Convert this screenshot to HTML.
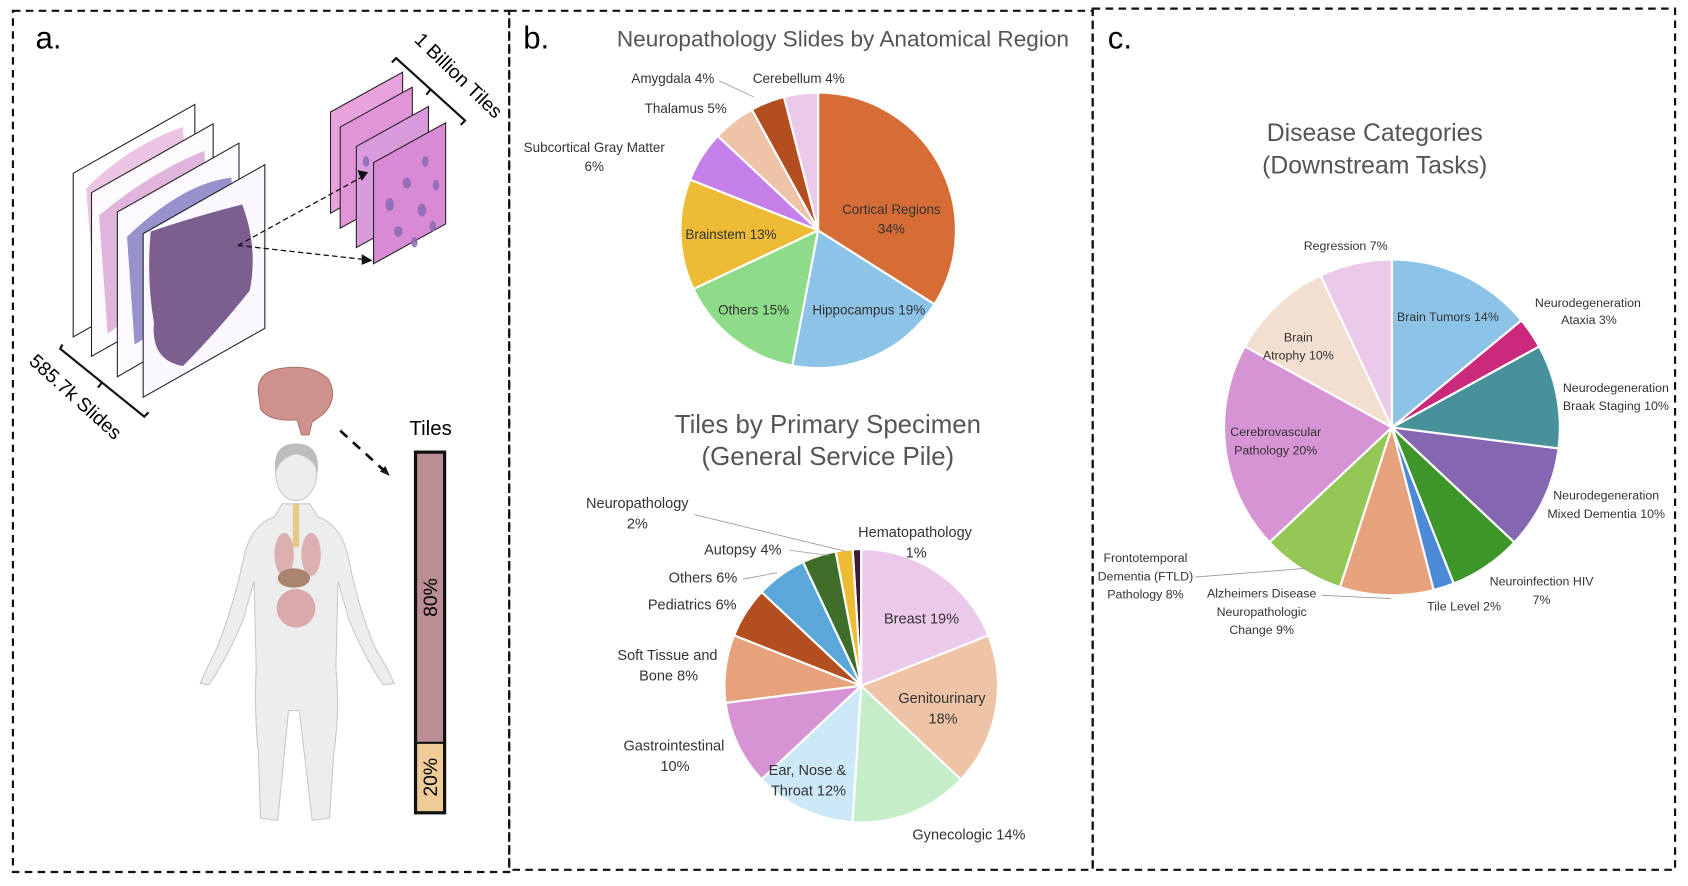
<!DOCTYPE html>
<html><head><meta charset="utf-8"><style>
html,body{margin:0;padding:0;background:#fff;}
svg{display:block;}
text{font-family:"Liberation Sans",sans-serif;}
.l{font-size:12.5px;fill:#333;text-anchor:middle;}
.m{font-size:13.5px;fill:#333;text-anchor:middle;}
.s{font-size:11.5px;fill:#333;text-anchor:middle;}
.t{fill:#555;text-anchor:middle;}
</style></head><body>
<svg id="s" width="1688" height="886" viewBox="0 0 1568 823" xmlns="http://www.w3.org/2000/svg">
<rect width="1568" height="823" fill="#fff"/>
<g fill="none" stroke="#111" stroke-width="2" stroke-dasharray="7,5">
<rect x="12" y="10" width="461" height="800"/>
<rect x="473" y="10" width="542" height="798"/>
<rect x="1015" y="8" width="541" height="800"/>
</g>
<text x="33" y="45" font-size="29">a.</text>
<text x="486" y="45" font-size="29">b.</text>
<text x="1029" y="45" font-size="29">c.</text>

<!-- panel a slides -->
<g stroke="#222" stroke-width="1">
<path d="M68 161 L181 97 L181 249 L68 313 Z" fill="#fff"/>
<path d="M80 175 Q120 135 170 118 L175 200 Q130 250 90 300 Z" fill="#E9B7DD" stroke="none" opacity="0.8"/>
<path d="M85 179 L198 115 L198 267 L85 331 Z" fill="#fdfbfe"/>
<path d="M92 200 Q140 160 190 140 L192 230 Q140 280 100 310 Z" fill="#D9A2D3" stroke="none" opacity="0.8"/>
<path d="M109 197 L222 133 L222 285 L109 350 Z" fill="#fcfaff"/>
<path d="M118 220 Q170 170 215 165 L216 250 Q160 300 125 320 Z" fill="#8A86C7" stroke="none" opacity="0.9"/>
<path d="M133 217 L246 153 L246 305 L133 369 Z" fill="#fbf9ff"/>
<path d="M140 215 Q185 200 225 190 Q240 230 232 270 Q200 310 170 340 Q140 335 143 300 Q136 260 140 215 Z" fill="#7C5F8F" stroke="none"/>
</g>
<g stroke="#222" stroke-width="1">
<path d="M307 104 L374 67 L374 161 L307 198 Z" fill="#E8A2DC"/>
<path d="M316 118 L383 81 L383 175 L316 212 Z" fill="#E294D8"/>
<path d="M331 136 L398 99 L398 193 L331 230 Z" fill="#D99BDC"/>
<path d="M347 151 L414 114 L414 208 L347 245 Z" fill="#D88AD4"/>
</g>
<g fill="#8A6BB5" opacity="0.85">
<ellipse cx="362" cy="190" rx="4" ry="6"/><ellipse cx="378" cy="170" rx="4" ry="5"/><ellipse cx="395" cy="150" rx="3" ry="5"/>
<ellipse cx="370" cy="215" rx="4" ry="5"/><ellipse cx="392" cy="195" rx="4" ry="6"/><ellipse cx="405" cy="172" rx="3" ry="5"/>
<ellipse cx="385" cy="225" rx="3" ry="5"/><ellipse cx="402" cy="210" rx="3" ry="5"/><ellipse cx="340" cy="150" rx="3" ry="5"/>
</g>
<g stroke="#111" stroke-width="1.2" stroke-dasharray="5,3" fill="none">
<path d="M221 228 L335 165"/><path d="M221 228 L338 241"/>
</g>
<path d="M332 158 L342 160 L336 168 Z" fill="#111"/>
<path d="M336 236 L346 242 L336 246 Z" fill="#111"/>
<g stroke="#111" stroke-width="2" fill="none">
<path d="M364 58 L368 54 L432 112 L428 116"/><path d="M400 83 L396 88"/>
<path d="M58 320 L56 324 L134 387 L138 383"/><path d="M95 355 L91 360"/>
</g>
<text font-size="18" transform="translate(384,38) rotate(44)">1 Billion Tiles</text>
<text font-size="18" transform="translate(26,337) rotate(42)">585.7k Slides</text>

<!-- brain -->
<path d="M240 365 Q238 345 262 342 Q290 338 305 352 Q315 370 300 385 L290 392 L287 404 L280 404 L276 390 Q250 392 242 380 Z" fill="#CF918C" stroke="#a56a66" stroke-width="0.8"/>
<!-- body -->
<g fill="#EDEDED" stroke="#c8c8c8" stroke-width="1">
<path d="M255 480 Q232 488 226 520 Q215 570 200 605 Q190 625 186 635 L194 636 Q212 610 226 575 L236 540 L238 620 Q236 660 240 700 L242 760 L258 762 L268 660 L278 660 L290 762 L306 760 L310 700 Q316 660 312 620 L314 540 L324 575 Q338 610 356 636 L366 635 Q360 620 350 605 Q334 570 324 520 Q318 488 295 480 L288 468 L262 468 Z"/>
</g>
<ellipse cx="275" cy="440" rx="19" ry="25" fill="#EDEDED" stroke="#c8c8c8"/>
<path d="M256 440 Q252 412 275 412 Q298 412 295 440 Q292 425 275 422 Q260 425 256 440 Z" fill="#BDBDBD"/>
<g opacity="0.8">
<ellipse cx="264" cy="515" rx="9" ry="20" fill="#D9A1A3"/><ellipse cx="289" cy="515" rx="9" ry="20" fill="#D9A1A3"/>
<ellipse cx="273" cy="537" rx="15" ry="9" fill="#9B6A4E"/>
<ellipse cx="275" cy="565" rx="18" ry="18" fill="#D6999A"/>
<rect x="272" y="468" width="6" height="40" fill="#E8C070"/>
</g>
<path d="M316 400 L360 440" stroke="#111" stroke-width="2.5" stroke-dasharray="9,7"/>
<path d="M353 438 L362 442 L358 433 Z" fill="#111"/>
<text x="400" y="404" font-size="19" text-anchor="middle">Tiles</text>
<rect x="386" y="420" width="27" height="270" fill="#BB8E95"/>
<rect x="386" y="690" width="27" height="65" fill="#EFCB97"/>
<rect x="386" y="420" width="27" height="335" fill="none" stroke="#111" stroke-width="3"/>
<line x1="386" y1="690" x2="413" y2="690" stroke="#111" stroke-width="2"/>
<text font-size="18" text-anchor="middle" transform="translate(406,555) rotate(-90)">80%</text>
<text font-size="18" text-anchor="middle" transform="translate(406,722) rotate(-90)">20%</text>

<g id="pies" stroke="#fff" stroke-width="2"></g>

<!-- pie 1 labels -->
<text class="t" x="783" y="43" font-size="21">Neuropathology Slides by Anatomical Region</text>
<text class="l" x="625" y="77">Amygdala 4%</text>
<text class="l" x="742" y="77">Cerebellum 4%</text>
<text class="l" x="637" y="105">Thalamus 5%</text>
<text class="l" x="552" y="141">Subcortical Gray Matter</text>
<text class="l" x="552" y="159">6%</text>
<text class="l" x="828" y="199">Cortical Regions</text>
<text class="l" x="828" y="217">34%</text>
<text class="l" x="679" y="222">Brainstem 13%</text>
<text class="l" x="700" y="292">Others 15%</text>
<text class="l" x="807" y="292">Hippocampus 19%</text>
<path d="M668 75 L700 90" stroke="#999" stroke-width="0.8"/>

<!-- pie 2 labels -->
<text class="t" x="769" y="402" font-size="24">Tiles by Primary Specimen</text>
<text class="t" x="769" y="432" font-size="24">(General Service Pile)</text>
<text class="m" x="592" y="472">Neuropathology</text>
<text class="m" x="592" y="491">2%</text>
<text class="m" x="850" y="499">Hematopathology</text>
<text class="m" x="851" y="518">1%</text>
<text class="m" x="690" y="515">Autopsy 4%</text>
<text class="m" x="653" y="541">Others 6%</text>
<text class="m" x="643" y="566">Pediatrics 6%</text>
<text class="m" x="620" y="613">Soft Tissue and</text>
<text class="m" x="621" y="632">Bone 8%</text>
<text class="m" x="626" y="697">Gastrointestinal</text>
<text class="m" x="627" y="716">10%</text>
<text class="m" x="856" y="579">Breast 19%</text>
<text class="m" x="875" y="653">Genitourinary</text>
<text class="m" x="876" y="672">18%</text>
<text class="m" x="750" y="720">Ear, Nose &amp;</text>
<text class="m" x="751" y="739">Throat 12%</text>
<text class="m" x="900" y="780">Gynecologic 14%</text>
<g stroke="#999" stroke-width="0.8" fill="none">
<path d="M645 478 L785 512"/><path d="M733 511 L770 516"/><path d="M690 538 L722 532"/>
</g>

<!-- pie 3 labels -->
<text class="t" x="1277" y="131" font-size="23">Disease Categories</text>
<text class="t" x="1277" y="161" font-size="23">(Downstream Tasks)</text>
<text class="s" x="1250" y="232">Regression 7%</text>
<text class="s" x="1345" y="298">Brain Tumors 14%</text>
<text class="s" x="1475" y="285">Neurodegeneration</text>
<text class="s" x="1476" y="301">Ataxia 3%</text>
<text class="s" x="1206" y="317">Brain</text>
<text class="s" x="1206" y="334">Atrophy 10%</text>
<text class="s" x="1501" y="364">Neurodegeneration</text>
<text class="s" x="1501" y="381">Braak Staging 10%</text>
<text class="s" x="1185" y="405">Cerebrovascular</text>
<text class="s" x="1185" y="422">Pathology 20%</text>
<text class="s" x="1492" y="464">Neurodegeneration</text>
<text class="s" x="1492" y="481">Mixed Dementia 10%</text>
<text class="s" x="1064" y="522">Frontotemporal</text>
<text class="s" x="1064" y="539">Dementia (FTLD)</text>
<text class="s" x="1064" y="556">Pathology 8%</text>
<text class="s" x="1172" y="555">Alzheimers Disease</text>
<text class="s" x="1172" y="572">Neuropathologic</text>
<text class="s" x="1172" y="589">Change 9%</text>
<text class="s" x="1432" y="544">Neuroinfection HIV</text>
<text class="s" x="1432" y="561">7%</text>
<text class="s" x="1360" y="567">Tile Level 2%</text>
<g stroke="#999" stroke-width="0.8" fill="none">
<path d="M1110 536 L1212 528"/><path d="M1228 553 L1292 556"/>
</g>
</svg>
<script>
(function(){
var g=document.getElementById('pies');
function pie(cx,cy,r,data){
  var a=0;
  data.forEach(function(d){
    var a0=a, a1=a+d[0]/100*2*Math.PI; a=a1;
    var x0=cx+r*Math.sin(a0), y0=cy-r*Math.cos(a0), x1=cx+r*Math.sin(a1), y1=cy-r*Math.cos(a1);
    var p=document.createElementNS('http://www.w3.org/2000/svg','path');
    p.setAttribute('d','M'+cx+' '+cy+' L'+x0+' '+y0+' A'+r+' '+r+' 0 '+((a1-a0)>Math.PI?1:0)+' 1 '+x1+' '+y1+' Z');
    p.setAttribute('fill',d[1]);
    g.insertBefore(p,g.firstChild);
  });
}
pie(760,214,128,[[34,'#D66D36'],[19,'#8CC3E6'],[15,'#8EDB8A'],[13,'#EDBB35'],[6,'#C57FE8'],[5,'#EEC3A8'],[4,'#B34E20'],[4,'#EBC9EA']]);
pie(800,637,127,[[19,'#EBC9EA'],[18,'#EFC3A6'],[14,'#C5EDC7'],[12,'#CDE8F7'],[10,'#D694D4'],[8,'#E5A27C'],[6,'#B34E20'],[6,'#5AA8DA'],[4,'#3E6E29'],[2,'#EEBC34'],[1,'#3A1A35']]);
pie(1293,397,156,[[14,'#8CC3E6'],[3,'#CB2A7C'],[10,'#47929A'],[10,'#8566B0'],[7,'#3E962B'],[2,'#4A8AD6'],[9,'#E5A27C'],[8,'#95C757'],[20,'#D794D4'],[10,'#F3DFD0'],[7,'#EBC9EA']]);
})();
</script>
</body></html>
